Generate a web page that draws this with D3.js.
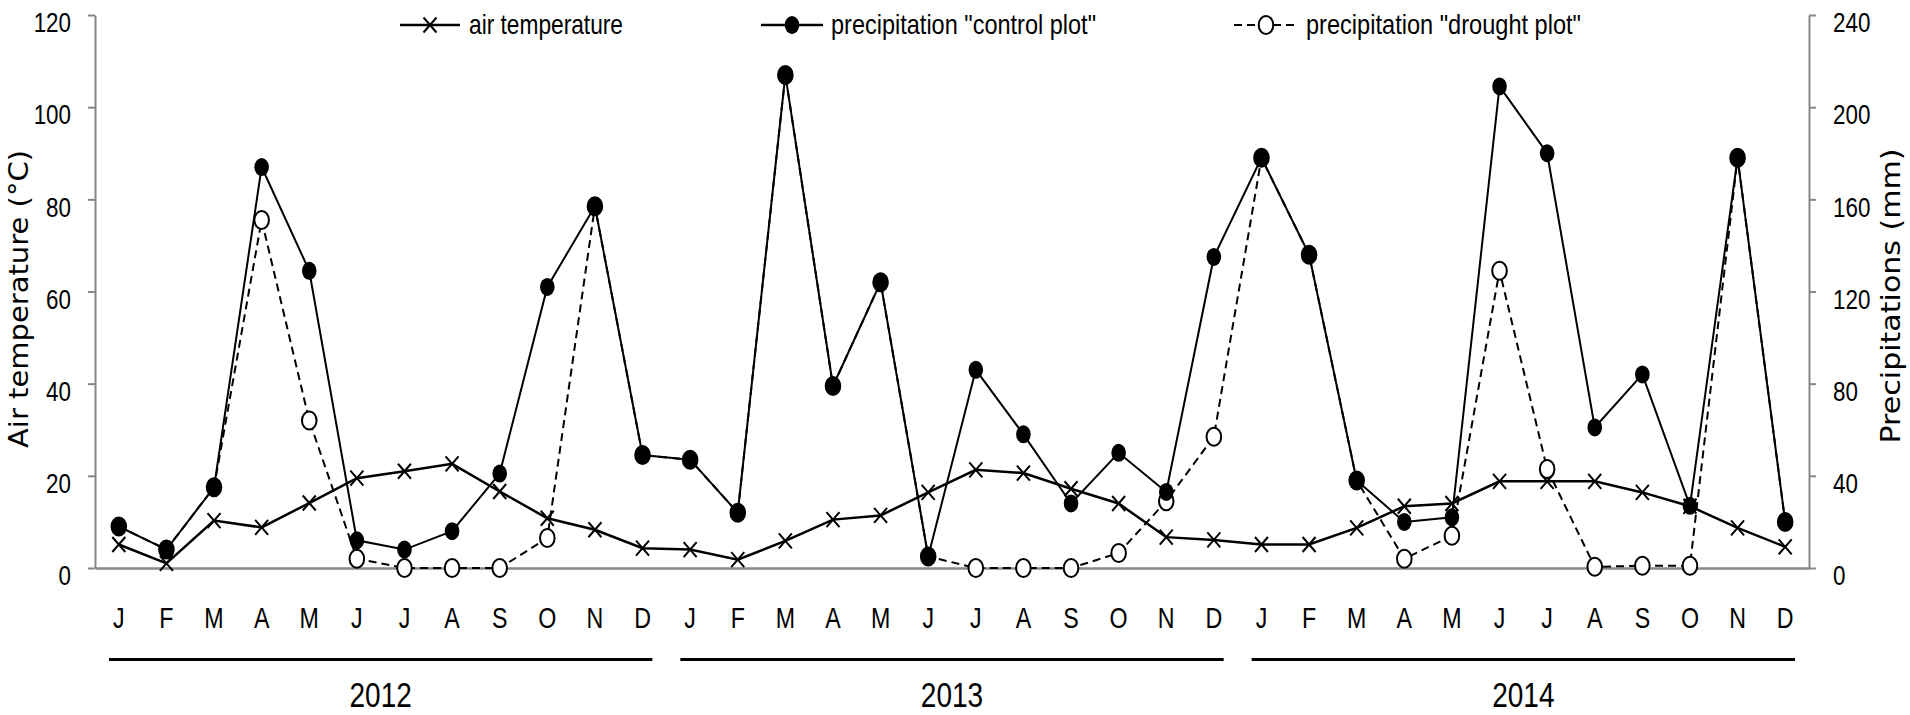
<!DOCTYPE html>
<html><head><meta charset="utf-8">
<script src="https://cdn.jsdelivr.net/npm/d3@7"></script>
<style>
html,body{margin:0;padding:0;background:#fff;}
svg{display:block;}
</style></head>
<body>
<svg id="chart" width="1910" height="715"></svg>
<script>
const months = ["J","F","M","A","M","J","J","A","S","O","N","D"];
const years = ["2012","2013","2014"];
const tempTicks = [0,20,40,60,80,100,120];
const precTicks = [0,40,80,120,160,200,240];
const seriesNames = ["air temperature",'precipitation "control plot"','precipitation "drought plot"'];

// air temperature (°C), left axis
const airTemp = [5.1,1.0,10.3,8.8,14.1,19.5,21.0,22.6,16.6,10.8,8.3,4.3,
                 4.0,1.8,5.9,10.5,11.4,16.4,21.3,20.6,17.2,14.0,6.7,6.1,
                 5.1,5.1,8.7,13.4,14.0,18.8,18.8,18.8,16.4,13.4,8.7,4.6];
// precipitation (mm), right axis
const precControl = [18,8,35,174,129,12,8,16,41,122,157,49,
                     47,24,214,79,124,5,86,58,28,50,33,135,
                     178,136,38,20,22,209,180,61,84,27,178,20];
const precDrought = [18,8,35,151,64,4,0,0,0,13,157,49,
                     47,24,214,79,124,5,0,0,0,6.5,29,57,
                     178,136,38,4,14,129,43,0.5,1,1,178,20];

const svg = d3.select("#chart");
const L = 95, R = 1809, T = 15, B = 568;
const font = "'Liberation Sans',Arial,sans-serif";
const SX = 0.8; // horizontal condensing of the narrow font
const axisGray = "#878787";

const idx = d3.range(years.length * months.length);
const x = d3.scaleBand().domain(idx).range([L, R]).padding(0);
const cx = i => x(i) + x.bandwidth() / 2;
const yL = d3.scaleLinear().domain([0,120]).range([B, T]);
const yR = d3.scaleLinear().domain([0,240]).range([B, T]);

// left axis
const gL = svg.append("g").attr("transform", `translate(${L},0)`)
  .call(d3.axisLeft(yL).tickValues(tempTicks).tickSize(7).tickSizeOuter(0));
// right axis
const gR = svg.append("g").attr("transform", `translate(${R},0)`)
  .call(d3.axisRight(yR).tickValues(precTicks).tickSize(7).tickSizeOuter(0));
[[gL, -24], [gR, 24]].forEach(([g, off]) => {
  g.select(".domain").attr("stroke", axisGray).attr("stroke-width", 2);
  g.selectAll(".tick line").attr("stroke", axisGray).attr("stroke-width", 2);
  g.selectAll(".tick text").attr("fill", "#000").attr("font-family", font)
    .attr("font-size", 28).attr("dy", "0.6em")
    .attr("x", off / SX).attr("transform", `scale(${SX},1)`);
});

// bottom (zero) axis
const gB = svg.append("g").attr("transform", `translate(0,${B})`)
  .call(d3.axisBottom(x).tickSize(0).tickSizeOuter(0)
        .tickFormat(i => months[i % 12]));
gB.select(".domain").attr("stroke", axisGray).attr("stroke-width", 2.5);
gB.selectAll(".tick text").attr("fill", "#000").attr("font-family", font)
  .attr("font-size", 29).attr("dy", 0).attr("y", 60)
  .attr("transform", `scale(${SX},1)`);

// year bars and labels
years.forEach((yr, k) => {
  const x0 = x(k * 12), x1 = x(k * 12 + 11) + x.bandwidth();
  svg.append("line").attr("x1", x0 + 14).attr("x2", x1 - 14)
    .attr("y1", 659.5).attr("y2", 659.5).attr("stroke", "#000").attr("stroke-width", 3.2);
  svg.append("g").attr("transform", `translate(${(x0 + x1) / 2},707) scale(${SX},1)`)
    .append("text").attr("text-anchor", "middle")
    .attr("font-family", font).attr("font-size", 35).text(yr);
});

// axis titles
svg.append("text").attr("transform", "translate(28,299) rotate(-90)")
  .attr("text-anchor", "middle").attr("font-family", "'DejaVu Sans',Verdana,sans-serif")
  .attr("font-size", 26).attr("textLength", 298).attr("lengthAdjust", "spacingAndGlyphs")
  .text("Air temperature (°C)");
svg.append("text").attr("transform", "translate(1900,296) rotate(-90)")
  .attr("text-anchor", "middle").attr("font-family", "'DejaVu Sans',Verdana,sans-serif")
  .attr("font-size", 26).attr("textLength", 295).attr("lengthAdjust", "spacingAndGlyphs")
  .text("Precipitations (mm)");

// marker helpers
const RX = 7.3, RY = 9;
const xPath = "M-6.5,-7.5L6.5,7.5M-6.5,7.5L6.5,-7.5";

// temperature series
const lineT = d3.line().x((d, i) => cx(i)).y(d => yL(d));
svg.append("path").datum(airTemp).attr("d", lineT).attr("fill", "none")
  .attr("stroke", "#000").attr("stroke-width", 2.5);
svg.append("g").selectAll("path").data(airTemp).join("path")
  .attr("transform", (d, i) => `translate(${cx(i)},${yL(d)})`)
  .attr("d", xPath).attr("stroke", "#000").attr("stroke-width", 2).attr("fill", "none");

// drought series
const lineP = d3.line().x((d, i) => cx(i)).y(d => yR(d));
svg.append("path").datum(precDrought).attr("d", lineP).attr("fill", "none")
  .attr("stroke", "#000").attr("stroke-width", 2).attr("stroke-dasharray", "8,5");
svg.append("g").selectAll("ellipse").data(precDrought).join("ellipse")
  .attr("cx", (d, i) => cx(i)).attr("cy", d => yR(d)).attr("rx", RX).attr("ry", RY)
  .attr("fill", "#fff").attr("stroke", "#000").attr("stroke-width", 2);

// control series
svg.append("path").datum(precControl).attr("d", lineP).attr("fill", "none")
  .attr("stroke", "#000").attr("stroke-width", 2);
svg.append("g").selectAll("ellipse").data(precControl).join("ellipse")
  .attr("cx", (d, i) => cx(i)).attr("cy", d => yR(d)).attr("rx", RX).attr("ry", RY)
  .attr("fill", "#000");

// legend
const lg = svg.append("g");
const legY = 25, legBase = 34;
lg.append("line").attr("x1", 400).attr("x2", 460).attr("y1", legY).attr("y2", legY)
  .attr("stroke", "#000").attr("stroke-width", 2.5);
lg.append("path").attr("transform", `translate(430,${legY})`).attr("d", xPath)
  .attr("stroke", "#000").attr("stroke-width", 2).attr("fill", "none");
lg.append("text").attr("x", 469).attr("y", legBase).attr("font-family", font)
  .attr("font-size", 28).attr("textLength", 154).attr("lengthAdjust", "spacingAndGlyphs")
  .text(seriesNames[0]);
lg.append("line").attr("x1", 761).attr("x2", 823).attr("y1", legY).attr("y2", legY)
  .attr("stroke", "#000").attr("stroke-width", 2.5);
lg.append("ellipse").attr("cx", 792).attr("cy", legY).attr("rx", RX).attr("ry", RY).attr("fill", "#000");
lg.append("text").attr("x", 831).attr("y", legBase).attr("font-family", font)
  .attr("font-size", 28).attr("textLength", 265).attr("lengthAdjust", "spacingAndGlyphs")
  .text(seriesNames[1]);
lg.append("line").attr("x1", 1234).attr("x2", 1299).attr("y1", legY).attr("y2", legY)
  .attr("stroke", "#000").attr("stroke-width", 2).attr("stroke-dasharray", "8,5");
lg.append("ellipse").attr("cx", 1266).attr("cy", legY).attr("rx", RX).attr("ry", RY)
  .attr("fill", "#fff").attr("stroke", "#000").attr("stroke-width", 2);
lg.append("text").attr("x", 1306).attr("y", legBase).attr("font-family", font)
  .attr("font-size", 28).attr("textLength", 275).attr("lengthAdjust", "spacingAndGlyphs")
  .text(seriesNames[2]);
</script>
</body></html>
